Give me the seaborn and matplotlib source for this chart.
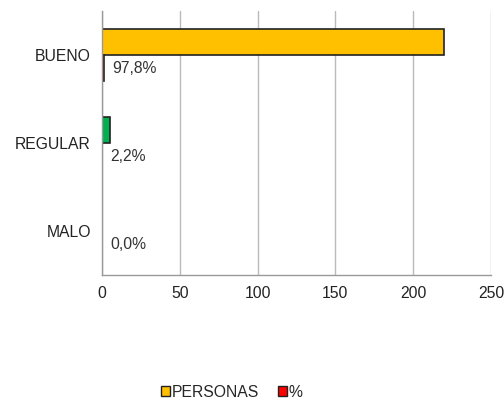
import matplotlib
matplotlib.use("Agg")
import matplotlib.pyplot as plt
import seaborn as sns
import pandas as pd
from matplotlib.patches import Patch

categories = ["BUENO", "REGULAR", "MALO"]
personas = [220, 5, 0]
pct = [0.978, 0.022, 0.0]
pct_labels = ["97,8%", "2,2%", "0,0%"]
series_names = ["PERSONAS", "%"]
xticks = [0, 50, 100, 150, 200, 250]

sns.set_theme(style="white")
plt.rcParams['font.family'] = ['Liberation Sans', 'DejaVu Sans']

df = pd.DataFrame({
    "cat": categories * 2,
    "val": personas + pct,
    "serie": [series_names[0]] * 3 + [series_names[1]] * 3,
})

fig = plt.figure(figsize=(5.04, 4.03), dpi=100)
ax = fig.add_axes([0.2024, 0.3176, 0.7718, 0.655])

yellow = "#FFC000"
green = "#00B050"
red = "#FF0000"

sns.barplot(data=df, y="cat", x="val", hue="serie", orient="h",
            palette=[yellow, red], order=categories, hue_order=series_names,
            width=0.6, edgecolor="#222222", linewidth=1.2, ax=ax,
            legend=False, errorbar=None, saturation=1)

# recolor the REGULAR persons bar green
bars_p = ax.containers[0]
bars_p[1].set_facecolor(green)
for cont in ax.containers:
    for bar in cont:
        if bar.get_width() == 0:
            bar.set_linewidth(0)

fs = 11.3
# labels on % bars
bars_pct = ax.containers[1]
for bar, lab in zip(bars_pct, pct_labels):
    y = bar.get_y() + bar.get_height() / 2
    ax.annotate(lab, xy=(bar.get_width(), y), xytext=(6, 0),
                textcoords="offset points", va="center", ha="left",
                fontsize=fs, color="#333333")

ax.set_xlim(0, 250)
ax.set_xticks(xticks)
ax.set_xticklabels([str(t) for t in xticks], fontsize=fs, color="#222222")
ax.tick_params(axis="y", labelsize=fs, labelcolor="#222222", length=0, pad=8)
ax.tick_params(axis="x", length=0, pad=8)
ax.set_xlabel("")
ax.set_ylabel("")
ax.grid(axis="x", color="#BBBBBB", linewidth=1.0)
ax.set_axisbelow(True)
for s in ["top", "right"]:
    ax.spines[s].set_visible(False)
for s in ["left", "bottom"]:
    ax.spines[s].set_color("#999999")
    ax.spines[s].set_linewidth(1.0)

handles = [Patch(facecolor=yellow, edgecolor="#222222", label=series_names[0]),
           Patch(facecolor=red, edgecolor="#222222", label=series_names[1])]
fig.legend(handles=handles, loc="center", bbox_to_anchor=(0.46, 0.027),
           ncol=2, frameon=False, fontsize=fs, handlelength=0.6,
           handleheight=0.6, handletextpad=0.1, columnspacing=1.2)

fig.savefig("out.png", dpi=100)
